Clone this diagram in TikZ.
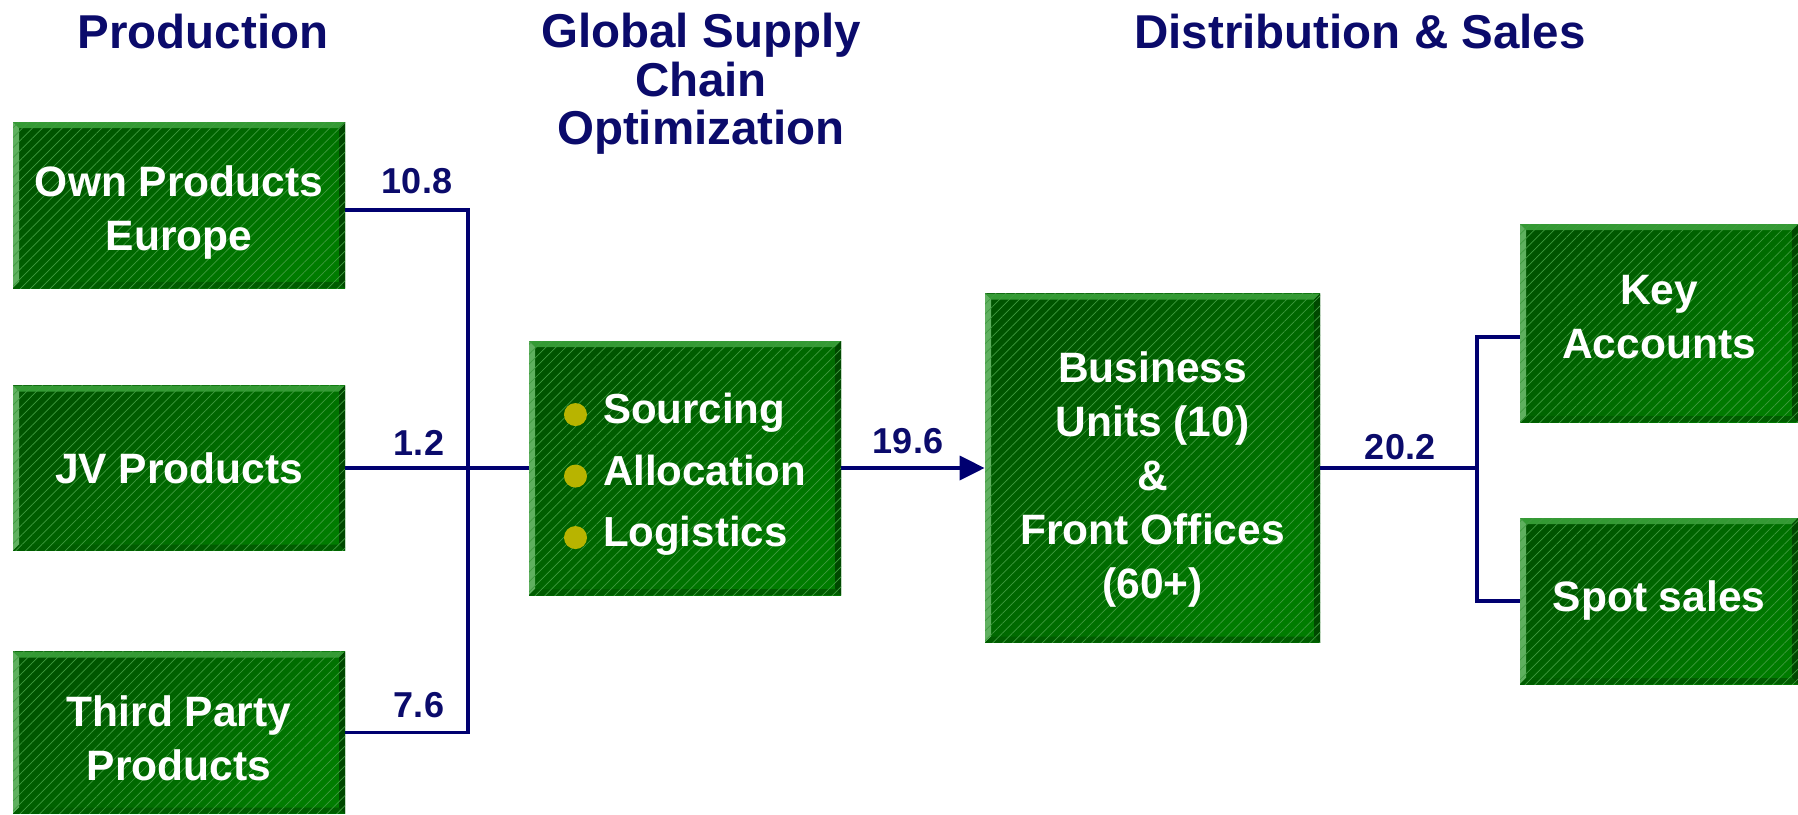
\documentclass[tikz,border=0pt]{standalone}
\usepackage{fontspec}
\setmainfont{Liberation Sans}
\usepackage{xcolor}
\usepackage{tikz}
\usetikzlibrary{arrows.meta,calc,patterns.meta,positioning}

\definecolor{navyline}{HTML}{000070}
\definecolor{navytext}{HTML}{0B0B6B}
\definecolor{gdark}{HTML}{005400}
\definecolor{glight}{HTML}{007C00}
\definecolor{ghatch}{HTML}{3F9A3F}
\definecolor{bevtop}{HTML}{349A34}
\definecolor{bevleft}{HTML}{5FB05F}
\definecolor{bevright}{HTML}{004800}
\definecolor{bevbottom}{HTML}{005C00}
\definecolor{bulletc}{HTML}{B8B400}

\newcommand\boxfont{\fontsize{21.25pt}{27pt}\selectfont\bfseries}
\newcommand\listfont{\fontsize{21pt}{30.75pt}\selectfont\bfseries}
\newcommand\titlefont{\fontsize{23.75pt}{24.25pt}\selectfont\bfseries}
\newcommand\flowfont{\fontsize{18pt}{18pt}\selectfont\bfseries}
\newcommand\bul{\tikz[baseline={(0,-4.5pt)}]\fill[bulletc] (0,0) circle (5.75pt);\hspace{8pt}}
% invisible strut that lowers the text block in its box
\newcommand\dropby[1]{\rule{0pt}{#1}}

\tikzset{
  gbox/.style={rectangle, inner sep=0pt, align=center, text=white, font=\boxfont,
    top color=gdark, bottom color=glight, shading angle=45,
    path picture={
      \coordinate (bnw) at (path picture bounding box.north west);
      \coordinate (bne) at (path picture bounding box.north east);
      \coordinate (bsw) at (path picture bounding box.south west);
      \coordinate (bse) at (path picture bounding box.south east);
      \fill[bevtop] (bnw) -- (bne) -- ($(bne)+(-3pt,-3pt)$) -- ($(bnw)+(3pt,-3pt)$) -- cycle;
      \fill[bevleft] (bnw) -- (bsw) -- ($(bsw)+(3pt,3pt)$) -- ($(bnw)+(3pt,-3pt)$) -- cycle;
      \fill[bevright] (bne) -- (bse) -- ($(bse)+(-3pt,3pt)$) -- ($(bne)+(-3pt,-3pt)$) -- cycle;
      \fill[bevbottom] (bsw) -- (bse) -- ($(bse)+(-3pt,3pt)$) -- ($(bsw)+(3pt,3pt)$) -- cycle;
    },
    postaction={pattern={Lines[angle=45,distance=3.5pt,line width=0.35pt]}, pattern color=ghatch}},
  push up/.style={execute at end node={\rule[-#1]{0pt}{#1}}},
  conn/.style={navyline, line width=1.8pt},
  flow/.style={navytext, font=\flowfont, anchor=base, inner sep=0pt},
  title/.style={navytext, font=\titlefont, align=center, inner sep=0pt},
}

\begin{document}
\begin{tikzpicture}[x=0.5pt, y=-0.5pt]
  \useasboundingbox (0,0) rectangle (1798,814);

  % Column headings
  \node[title, anchor=base] (hprod) at (203,48) {Production};
  \node[title, anchor=north] (hgsc) at (701,13) {Global Supply\\Chain\\Optimization};
  \node[title, anchor=base] (hdist) at (1360,48) {Distribution \& Sales};

  % Production
  \node[gbox, minimum width=166pt, minimum height=83pt] (own) at (179,205) {\dropby{22.5pt}Own Products\\Europe};
  \node[gbox, minimum width=166pt, minimum height=82.5pt] (jv) at (179,468) {JV Products};
  \node[gbox, minimum width=166pt, minimum height=81pt] (third) at (179,732.5) {\dropby{21.5pt}Third Party\\Products};

  % Supply chain
  \node[gbox, font=\listfont, align=left, minimum width=156pt, minimum height=127pt] (opt) at (685,468)
    {\dropby{21.5pt}\bul Sourcing\\\bul Allocation\\\bul Logistics};

  % Distribution & sales
  \node[gbox, minimum width=167.5pt, minimum height=174.5pt] (bu) at (1152.5,468)
    {\dropby{27pt}Business\\Units (10)\\\&\\Front Offices\\(60+)};
  \node[gbox, push up=6pt, minimum width=139pt, minimum height=99pt] (key) at (1659,323) {Key\\Accounts};
  \node[gbox, minimum width=139pt, minimum height=83pt] (spot) at (1659,601) {Spot sales};

  % Connectors
  \coordinate (jl) at (468,468);
  \coordinate (jr) at (1477,468);
  \draw[conn] ([yshift=-2.5pt]own.east) -| (jl) |- (third);
  \draw[conn] (jv) -- (opt);
  \draw[conn, -{Triangle[length=12.5pt,width=12pt]}] (opt) -- (bu);
  \draw[conn] (bu) -- (jr);
  \draw[conn] ([yshift=-7pt]key.west) -| (jr) |- (spot);

  % Volumes
  \node[flow] (f1) at (417,193) {10.8};
  \node[flow] (f2) at (419,455) {1.2};
  \node[flow] (f3) at (419,717) {7.6};
  \node[flow] (f4) at (908,453) {19.6};
  \node[flow] (f5) at (1400,459) {20.2};
\end{tikzpicture}
\end{document}
